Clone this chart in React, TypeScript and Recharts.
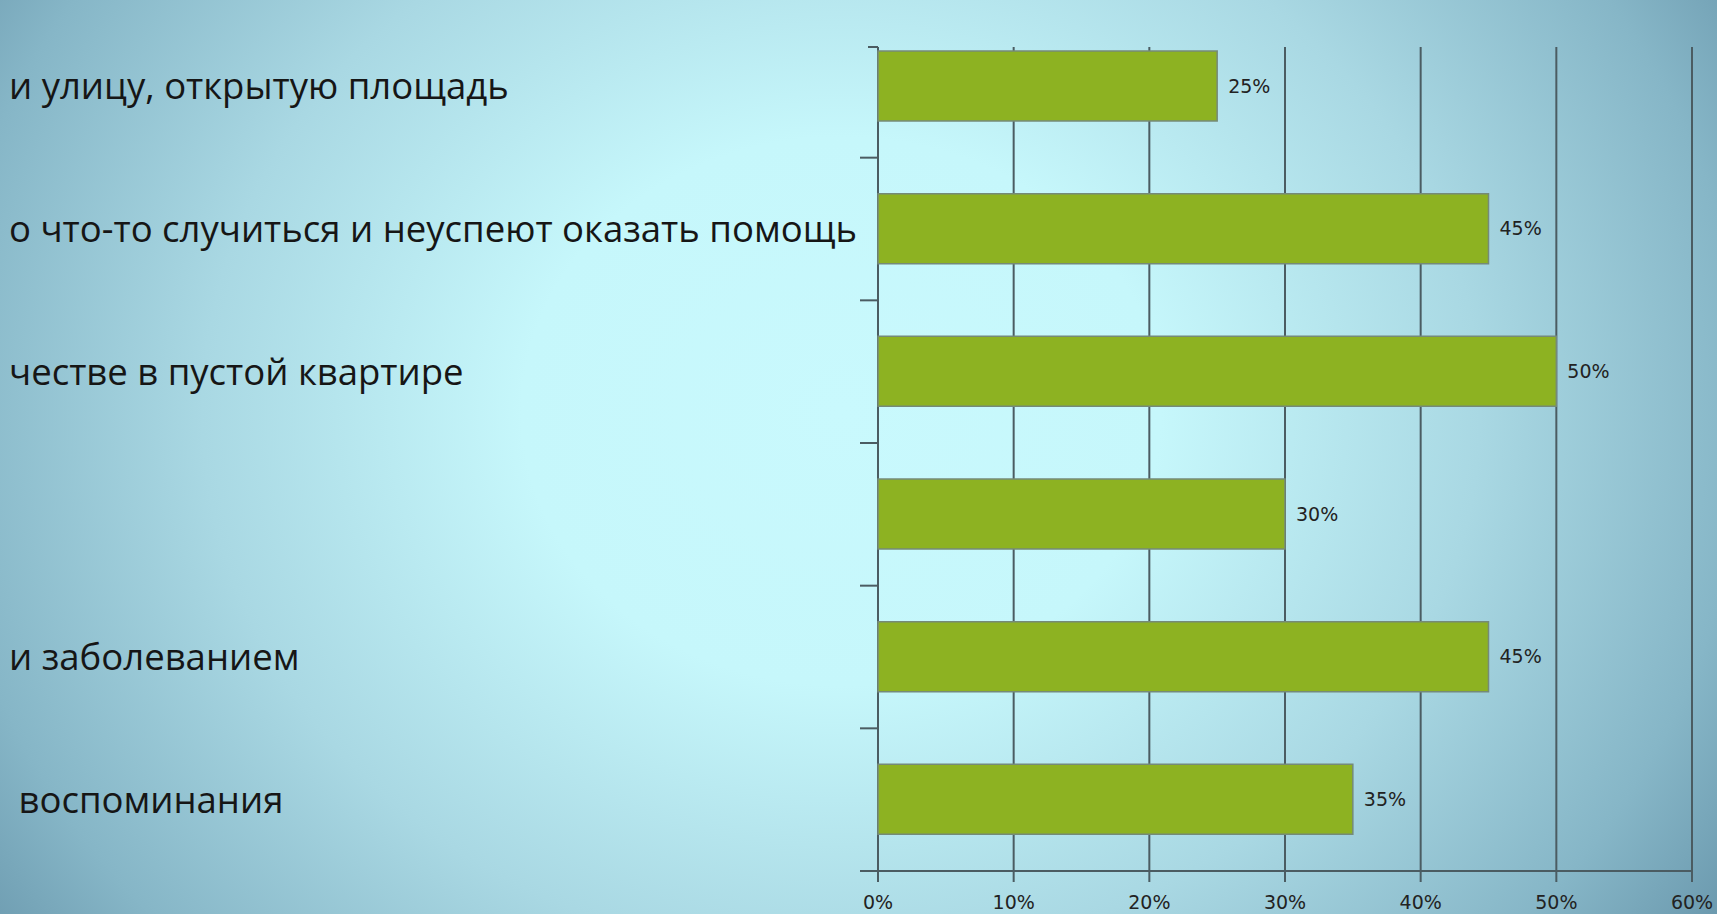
import React from 'react';
import { BarChart, Bar, XAxis, YAxis, CartesianGrid, LabelList } from 'recharts';

// visible tails of the category captions (the slide crops them on the left)
const categories = [
  'и улицу, открытую площадь',
  'о что-то случиться и неуспеют оказать помощь',
  'честве в пустой квартире',
  '',
  'и заболеванием',
  '\u00a0воспоминания',
];
const values = [25, 45, 50, 30, 45, 35];
const xTicks = [0, 10, 20, 30, 40, 50, 60];

const data = categories.map((name, i) => ({ name, value: values[i] }));

const GRID = '#4b5c62';
const GRID_TOP = 47; // excel plot area starts below the first band's top
const SMALL_FONT = "'DejaVu Sans', Verdana, sans-serif";

const CategoryTick = (props: any) => {
  const { x, y, payload } = props;
  const half = payload.offset || 0;
  return (
    <g>
      <line x1={x - 10} x2={x + 8} y1={y + half} y2={y + half} stroke={GRID} strokeWidth={2} />
      <text
        x={9}
        y={y}
        dy={13}
        fill="#161616"
        fontSize={36.5}
        fontFamily="'Open Sans', sans-serif"
        textAnchor="start"
      >
        {payload.value}
      </text>
    </g>
  );
};

const GridLine = (props: any) => {
  const { x1, x2, y2, index } = props;
  return (
    <g key={`v-${index}`}>
      <line x1={x1} x2={x2} y1={GRID_TOP} y2={y2} stroke={GRID} strokeWidth={2} />
      {index === 0 && <line x1={x1 - 10} x2={x1} y1={GRID_TOP} y2={GRID_TOP} stroke={GRID} strokeWidth={2} />}
    </g>
  );
};

export default function App() {
  return (
    <div
      style={{
        position: 'absolute',
        left: 0,
        top: 0,
        width: 1717,
        height: 914,
        background:
          'radial-gradient(ellipse 62% 100% at 49% 45%, #c9f9fd 0%, #c6f7fb 30%, #a9d8e3 60%, #86b6c7 85%, #6a98ad 100%)',
      }}
    >
      <BarChart
        width={1717}
        height={914}
        data={data}
        layout="vertical"
        margin={{ top: 15, right: 25, bottom: 0, left: 0 }}
        barSize={70}
      >
        <CartesianGrid horizontal={false} vertical={GridLine} />
        <XAxis
          type="number"
          domain={[0, 60]}
          ticks={xTicks}
          interval={0}
          height={43}
          tickFormatter={(v) => `${v}%`}
          axisLine={{ stroke: GRID, strokeWidth: 2 }}
          tickLine={{ stroke: GRID, strokeWidth: 2 }}
          tickSize={11}
          tickMargin={14}
          tick={{ fill: '#222', fontSize: 19, fontFamily: SMALL_FONT }}
        />
        <YAxis
          type="category"
          dataKey="name"
          width={878}
          axisLine={false}
          tickLine={false}
          tick={<CategoryTick />}
          interval={0}
        />
        <Bar dataKey="value" fill="#8db222" stroke="#758a78" strokeWidth={1.5} isAnimationActive={false}>
          <LabelList
            dataKey="value"
            position="right"
            offset={11}
            formatter={(v: any) => `${v}%`}
            style={{ fill: '#222', fontSize: 19, fontFamily: SMALL_FONT }}
          />
        </Bar>
      </BarChart>
    </div>
  );
}
